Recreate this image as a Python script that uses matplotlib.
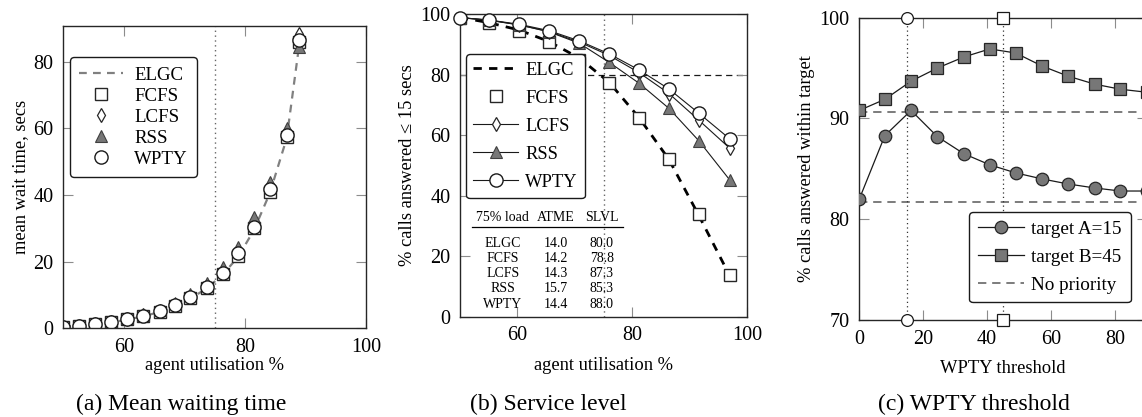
import matplotlib
matplotlib.use('Agg')
import matplotlib.pyplot as plt
from matplotlib.lines import Line2D

plt.rcParams['font.family'] = ['Liberation Serif', 'DejaVu Serif']

# ---------------- data ----------------
# (a) mean waiting time
util_a = [50.0, 52.6, 55.2, 57.9, 60.5, 63.2, 65.9, 68.5, 71.0, 73.7, 76.3, 78.9, 81.5, 84.1, 86.9, 89.0]
elgc_a = [0.45, 0.75, 1.2, 1.75, 2.6, 3.6, 4.9, 6.6, 8.9, 12.0, 16.0, 21.5, 29.5, 40.5, 57.0, 85.5]
fcfs_a = [0.5, 0.8, 1.3, 1.8, 2.7, 3.7, 5.0, 6.8, 9.1, 12.2, 16.3, 21.8, 30.0, 41.0, 57.3, 85.8]
lcfs_a = [0.5, 0.8, 1.3, 1.9, 2.8, 3.9, 5.2, 7.0, 9.4, 12.6, 17.0, 23.0, 31.0, 42.0, 58.5, 88.2]
rss_a = [0.6, 0.9, 1.4, 2.0, 3.0, 4.1, 5.5, 7.5, 10.2, 13.7, 18.5, 24.5, 33.5, 44.0, 60.2, 84.5]
wpty_a = [0.5, 0.8, 1.3, 1.8, 2.8, 3.8, 5.1, 6.9, 9.3, 12.4, 16.7, 22.7, 30.5, 41.7, 58.0, 86.5]

# (b) service level
util_b = [50.0, 55.1, 60.3, 65.5, 70.8, 76.0, 81.2, 86.4, 91.6, 97.0]
elgc_b = [99.0, 97.2, 94.8, 91.0, 85.5, 77.5, 65.8, 52.0, 33.5, 13.5]
fcfs_b = [98.9, 97.0, 94.5, 90.9, 85.0, 77.2, 65.6, 52.1, 33.9, 13.8]
lcfs_b = [98.9, 98.0, 96.5, 94.3, 90.8, 86.4, 80.7, 73.8, 65.0, 55.7]
rss_b = [98.9, 98.1, 96.5, 94.2, 90.4, 84.1, 77.2, 68.9, 58.2, 45.2]
wpty_b = [98.9, 98.1, 96.7, 94.6, 91.2, 86.9, 81.6, 75.3, 67.3, 58.8]
target_sl = 80

table_header = ['75% load', 'ATME', 'SLVL']
table_names = ['ELGC', 'FCFS', 'LCFS', 'RSS', 'WPTY']
table_atme = ['14.0', '14.2', '14.3', '15.7', '14.4']
table_slvl = ['80.0', '78.8', '87.3', '85.3', '88.0']

# (c) WPTY threshold
threshold = [0, 8.0, 16.2, 24.4, 32.7, 40.8, 48.9, 57.2, 65.3, 73.7, 81.7, 90.0]
target_a = [82.0, 88.3, 90.8, 88.2, 86.5, 85.4, 84.6, 84.0, 83.5, 83.1, 82.8, 82.8]
target_b = [90.8, 91.9, 93.7, 95.0, 96.1, 96.9, 96.5, 95.2, 94.2, 93.4, 92.9, 92.6]
nopri_a = 81.7
nopri_b = 90.66
target_a_secs = 15
target_b_secs = 45
load_mark = 75

GRAY = '#777777'
W, H = 1142, 417
fig = plt.figure(figsize=(W / 100, H / 100), dpi=100)

TICK_FS = 14.5
LABEL_FS = 13.3
CAP_FS = 17
TABLE_FS = 10


def style(ax):
    ax.tick_params(direction='in', length=7, width=0.8, color='0.55',
                   top=True, right=True, labelsize=TICK_FS, pad=7)
    for s in ax.spines.values():
        s.set_linewidth(1.0)
        s.set_color('0.15')


def pos(l, t, r, b):
    return [l / W, 1 - b / H, (r - l) / W, (b - t) / H]


# ---------------- (a) ----------------
ax = fig.add_axes(pos(63.3, 26, 366, 328.3))
style(ax)
ax.axvline(load_mark, color='0.4', ls=(0, (1, 2.5)), lw=1.0)
ax.plot(util_a, elgc_a, color='0.5', ls=(0, (3.5, 2.8)), lw=1.6, label='ELGC')
ax.plot(util_a, fcfs_a, 's', ms=9, mfc='white', mec='0.15', mew=1.0, label='FCFS')
ax.plot(util_a, lcfs_a, 'd', ms=7, mfc='white', mec='0.15', mew=0.9, label='LCFS')
ax.plot(util_a, rss_a, '^', ms=8.5, mfc=GRAY, mec='0.25', mew=0.8, label='RSS')
ax.plot(util_a, wpty_a, 'o', ms=9.5, mfc='white', mec='0.1', mew=1.0, label='WPTY')
ax.set_xlim(50, 100)
ax.set_ylim(0, 90.7)
ax.set_xticks([60, 80, 100])
ax.set_yticks([0, 20, 40, 60, 80])
ax.set_xlabel('agent utilisation %', fontsize=LABEL_FS, labelpad=0)
ax.set_ylabel('mean wait time, secs', fontsize=LABEL_FS, labelpad=3)
leg = ax.legend(loc='upper left', bbox_to_anchor=(0.022, 0.898), borderaxespad=0,
                fontsize=13.6, handlelength=2.3, handletextpad=0.6, labelspacing=0.2,
                frameon=True, fancybox=True, edgecolor='0.1', borderpad=0.5)
leg.get_frame().set_linewidth(1.0)
leg.get_frame().set_alpha(1)
fig.text(181 / W, 1 - 404 / H, '(a) Mean waiting time', ha='center', va='center', fontsize=CAP_FS)

# ---------------- (b) ----------------
ax = fig.add_axes(pos(460, 14.3, 747, 316.7))
style(ax)
ax.axvline(load_mark, color='0.4', ls=(0, (1, 2.5)), lw=1.0, zorder=1)
ax.axhline(target_sl, color='0.1', ls=(0, (5, 3.5)), lw=0.9, zorder=1)
ax.plot(util_b, elgc_b, color='black', ls=(0, (3, 2.6)), lw=2.0, label='ELGC', zorder=2)
ax.plot(util_b, fcfs_b, 's', ms=9, mfc='white', mec='0.15', mew=1.0, label='FCFS', zorder=3)
ax.plot(util_b, lcfs_b, '-d', color='0.1', lw=0.8, ms=7, mfc='white', mec='0.15', mew=0.9,
        label='LCFS', zorder=3)
ax.plot(util_b, rss_b, '-^', color='0.1', lw=0.8, ms=8.5, mfc=GRAY, mec='0.25', mew=0.8,
        label='RSS', zorder=3)
ax.plot(util_b, wpty_b, '-o', color='0.1', lw=0.8, ms=9.5, mfc='white', mec='0.1', mew=1.0,
        label='WPTY', zorder=4, clip_on=False)
ax.set_xlim(50, 100)
ax.set_ylim(0, 100)
ax.set_xticks([60, 80, 100])
ax.set_yticks([0, 20, 40, 60, 80, 100])
ax.set_xlabel('agent utilisation %', fontsize=LABEL_FS, labelpad=8)
ax.set_ylabel('% calls answered ≤ 15 secs', fontsize=LABEL_FS, labelpad=3)
leg = ax.legend(loc='upper left', bbox_to_anchor=(0.021, 0.868), borderaxespad=0,
                fontsize=13.3, handlelength=2.4, handletextpad=0.4, labelspacing=0.6,
                frameon=True, fancybox=True, edgecolor='0.1', borderpad=0.4)
leg.get_frame().set_linewidth(1.0)
leg.get_frame().set_alpha(1)
leg.set_zorder(10)

col_x = [0.149, 0.334, 0.494]
for cx, txt in zip(col_x, table_header):
    ax.text(cx, 0.329, txt, transform=ax.transAxes, ha='center', va='center', fontsize=TABLE_FS, zorder=11)
ax.plot([0.041, 0.567], [0.298, 0.298], transform=ax.transAxes, color='black', lw=0.9, zorder=11)
row_y = [0.243, 0.193, 0.144, 0.092, 0.039]
for ry, n, a, s in zip(row_y, table_names, table_atme, table_slvl):
    for cx, txt in zip(col_x, [n, a, s]):
        ax.text(cx, ry, txt, transform=ax.transAxes, ha='center', va='center', fontsize=TABLE_FS, zorder=11)
fig.text(548 / W, 1 - 404 / H, '(b) Service level', ha='center', va='center', fontsize=CAP_FS)

# ---------------- (c) ----------------
ax = fig.add_axes(pos(859.3, 17.7, 1147, 320))
style(ax)
ax.axhline(nopri_a, color='0.4', ls=(0, (5, 3.5)), lw=1.2, zorder=1)
ax.axhline(nopri_b, color='0.4', ls=(0, (5, 3.5)), lw=1.2, zorder=1)
ax.plot([target_a_secs, target_a_secs], [70, 100], color='0.2', ls=(0, (1, 2.5)), lw=0.9,
        marker='o', ms=8.5, mfc='white', mec='0.1', mew=0.9, clip_on=False, zorder=5)
ax.plot([target_b_secs, target_b_secs], [70, 100], color='0.2', ls=(0, (1, 2.5)), lw=0.9,
        marker='s', ms=8.5, mfc='white', mec='0.1', mew=0.9, clip_on=False, zorder=5)
ax.plot(threshold, target_a, '-o', color='0.1', lw=0.9, ms=9, mfc=GRAY, mec='0.15', mew=0.9,
        label='target A=15', zorder=3)
ax.plot(threshold, target_b, '-s', color='0.1', lw=0.9, ms=9, mfc=GRAY, mec='0.15', mew=0.9,
        label='target B=45', zorder=3)
ax.set_xlim(0, 90)
ax.set_ylim(70, 100)
ax.set_xticks([0, 20, 40, 60, 80])
ax.set_yticks([70, 80, 90, 100])
ax.set_xlabel('WPTY threshold', fontsize=LABEL_FS, labelpad=8)
ax.set_ylabel('% calls answered within target', fontsize=LABEL_FS, labelpad=3)
handles, labels = ax.get_legend_handles_labels()
handles.append(Line2D([], [], color='0.4', ls=(0, (5, 3.5)), lw=1.2))
labels.append('No priority')
leg = ax.legend(handles, labels, loc='upper left', bbox_to_anchor=(0.382, 0.358), borderaxespad=0,
                fontsize=13.8, handlelength=2.4, handletextpad=0.4, labelspacing=0.55,
                frameon=True, fancybox=True, edgecolor='0.1', borderpad=0.45)
leg.get_frame().set_linewidth(1.0)
leg.get_frame().set_alpha(1)
leg.set_zorder(10)
fig.text(974 / W, 1 - 404 / H, '(c) WPTY threshold', ha='center', va='center', fontsize=CAP_FS)

fig.savefig('out.png', dpi=100)
